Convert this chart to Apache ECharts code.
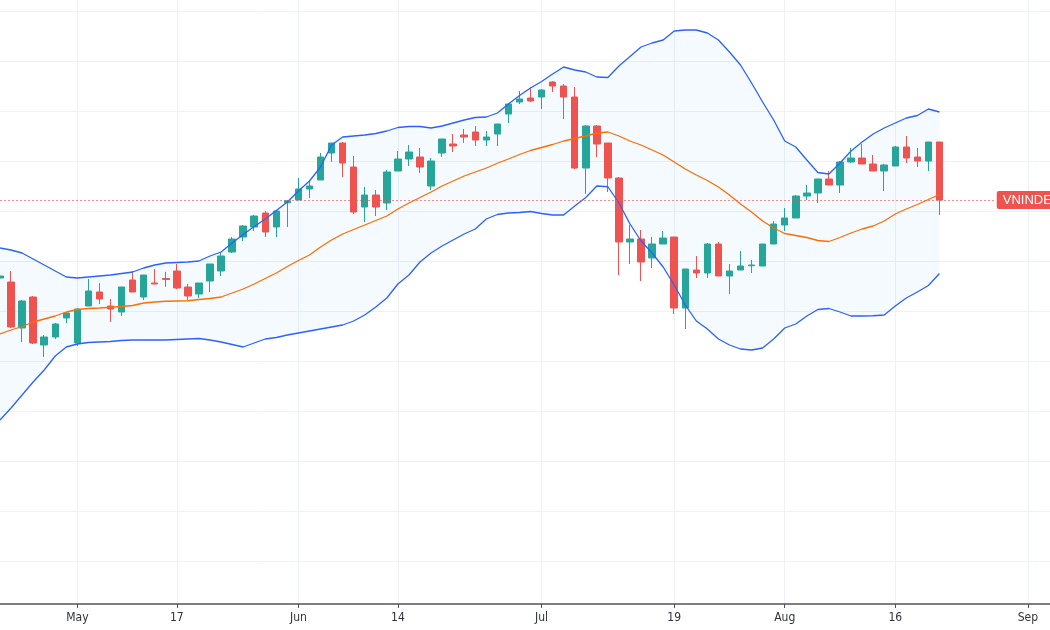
<!DOCTYPE html>
<html lang="en">
<head>
  <meta charset="UTF-8">
  <title>VNINDEX - Bollinger Bands</title>
  <script src="https://cdn.jsdelivr.net/npm/echarts@6/dist/echarts.min.js"></script>
  <style>
    html, body { margin: 0; padding: 0; background: #fff; }
    #chart { width: 1050px; height: 630px; }
  </style>
</head>
<body>
  <div id="chart"></div>
  <script>
    // trading days (the last ones are empty slots up to the right edge)
    const dates = [
      '2021-04-20','2021-04-22','2021-04-23','2021-04-26','2021-04-27','2021-04-28','2021-04-29',
      '2021-05-04','2021-05-05','2021-05-06','2021-05-07','2021-05-10','2021-05-11','2021-05-12','2021-05-13','2021-05-14',
      '2021-05-17','2021-05-18','2021-05-19','2021-05-20','2021-05-21','2021-05-24','2021-05-25','2021-05-26','2021-05-27','2021-05-28','2021-05-31',
      '2021-06-01','2021-06-02','2021-06-03','2021-06-04','2021-06-07','2021-06-08','2021-06-09','2021-06-10','2021-06-11',
      '2021-06-14','2021-06-15','2021-06-16','2021-06-17','2021-06-18','2021-06-21','2021-06-22','2021-06-23','2021-06-24','2021-06-25',
      '2021-06-28','2021-06-29','2021-06-30','2021-07-01','2021-07-02','2021-07-05','2021-07-06','2021-07-07','2021-07-08','2021-07-09',
      '2021-07-12','2021-07-13','2021-07-14','2021-07-15','2021-07-16','2021-07-19','2021-07-20','2021-07-21','2021-07-22','2021-07-23',
      '2021-07-26','2021-07-27','2021-07-28','2021-07-29','2021-07-30','2021-08-02','2021-08-03','2021-08-04','2021-08-05','2021-08-06',
      '2021-08-09','2021-08-10','2021-08-11','2021-08-12','2021-08-13','2021-08-16','2021-08-17','2021-08-18','2021-08-19','2021-08-20',
      '2021-08-23','2021-08-24','2021-08-25','2021-08-26','2021-08-27','2021-08-30','2021-08-31','2021-09-01','2021-09-06','2021-09-07'
    ];

    // which dates get a label on the time axis
    const tickLabels = {
      '2021-05-04': 'May', '2021-05-17': '17', '2021-06-01': 'Jun', '2021-06-14': '14',
      '2021-07-01': 'Jul', '2021-07-19': '19', '2021-08-02': 'Aug', '2021-08-16': '16', '2021-09-01': 'Sep'
    };

    const opens = [
      1266.4,1263.2,1226.4,1251.2,1212.8,1219.2,1234.4,1214.4,1244.0,1255.2,1244.0,1239.2,1264.8,1251.2,1262.4,1266.0,
      1272.0,1259.2,1253.6,1264.0,1272.0,1287.2,1299.2,1307.2,1318.4,1307.2,1326.6,1328.8,1337.6,1344.8,1366.4,1374.4,
      1355.2,1323.2,1332.8,1326.4,1352.0,1361.6,1363.2,1340.0,1366.4,1373.6,1380.8,1383.2,1376.8,1381.6,1397.6,1407.2,
      1410.4,1411.2,1423.2,1420.0,1411.2,1354.4,1388.0,1374.4,1346.4,1295.2,1297.6,1282.4,1293.6,1299.2,1242.4,1272.8,
      1270.4,1293.6,1268.0,1272.8,1276.2,1276.0,1293.6,1308.8,1314.4,1332.0,1334.4,1345.6,1340.8,1359.2,1362.4,1357.6,
      1352.0,1356.0,1371.2,1363.2,1360.0,1375.2
    ];
    const closes = [
      1268.0,1227.2,1248.0,1214.4,1219.2,1229.6,1238.4,1241.6,1256.0,1249.6,1241.6,1259.2,1255.2,1268.8,1261.6,1265.2,
      1258.4,1252.0,1262.4,1277.6,1284.0,1297.6,1308.0,1316.0,1303.2,1320.0,1328.2,1337.6,1340.0,1363.2,1374.4,1358.4,
      1319.2,1332.8,1323.2,1351.2,1361.6,1367.2,1355.2,1360.0,1377.6,1372.0,1379.2,1376.8,1379.2,1389.6,1405.6,1409.6,
      1408.0,1416.8,1420.0,1411.2,1354.4,1388.0,1373.6,1346.4,1295.2,1297.6,1279.2,1293.6,1298.4,1242.4,1273.6,1270.4,
      1293.6,1268.0,1272.0,1276.0,1276.8,1293.6,1309.6,1314.4,1332.0,1334.4,1345.6,1340.8,1359.2,1362.4,1357.6,1352.0,
      1356.8,1371.2,1362.4,1360.0,1375.2,1328.8
    ];
    const lows = [
      1265.6,1226.4,1215.2,1213.6,1203.2,1217.6,1230.4,1212.0,1244.0,1245.6,1231.2,1236.0,1255.2,1248.8,1261.6,1259.4,
      1257.6,1248.8,1250.4,1255.2,1268.0,1286.4,1296.0,1304.0,1299.2,1299.2,1307.2,1328.8,1330.4,1344.8,1359.2,1347.2,
      1317.6,1311.2,1316.0,1320.8,1352.0,1356.0,1350.4,1336.8,1363.2,1367.2,1374.4,1372.0,1372.0,1372.0,1390.4,1405.6,
      1407.2,1401.6,1415.2,1393.6,1353.6,1333.6,1363.2,1335.2,1268.8,1277.6,1264.0,1274.4,1293.6,1237.6,1225.6,1266.4,
      1266.4,1268.0,1253.6,1272.8,1270.4,1276.0,1293.6,1304.0,1314.4,1328.8,1326.4,1340.8,1334.4,1358.4,1357.6,1352.0,
      1336.0,1356.0,1358.4,1355.2,1352.0,1316.8
    ];
    const highs = [
      1268.8,1272.0,1248.8,1252.0,1220.8,1230.4,1239.2,1242.2,1265.6,1262.4,1249.6,1259.2,1272.0,1268.8,1273.6,1271.4,
      1277.6,1261.6,1262.4,1277.6,1287.2,1299.2,1308.8,1316.8,1320.0,1320.8,1328.8,1346.4,1344.8,1366.4,1374.4,1375.2,
      1364.0,1339.2,1336.8,1352.8,1368.0,1372.8,1370.4,1362.4,1377.6,1381.6,1385.6,1388.0,1384.0,1389.6,1406.4,1416.0,
      1419.2,1417.6,1424.0,1421.6,1419.2,1388.8,1388.8,1374.4,1347.2,1308.8,1304.8,1299.2,1304.0,1299.2,1273.6,1284.0,
      1294.4,1295.2,1277.6,1288.0,1280.8,1293.6,1312.0,1322.4,1332.8,1340.8,1345.6,1352.0,1360.0,1370.4,1373.6,1364.8,
      1357.6,1372.0,1380.0,1370.4,1375.2,1375.2
    ];

    // Bollinger bands as drawn
    const upperBand = [
      1290.4,1288.8,1286.4,1281.6,1276.8,1272.0,1267.2,1266.4,1267.2,1268.0,1268.8,1270.0,1271.2,1274.4,1276.8,1278.4,
      1278.8,1279.2,1280.0,1284.0,1287.2,1294.4,1301.2,1307.6,1313.6,1320.4,1327.2,1336.0,1344.0,1355.2,1372.8,1379.2,
      1380.0,1380.8,1382.0,1384.0,1386.8,1387.6,1387.6,1386.4,1388.0,1390.4,1392.8,1394.8,1395.2,1398.4,1405.6,1412.4,
      1418.4,1423.6,1429.6,1435.2,1432.8,1431.2,1427.2,1426.8,1436.0,1443.6,1451.2,1454.4,1456.8,1464.0,1464.8,1464.8,
      1462.4,1456.8,1447.2,1436.8,1422.4,1407.2,1392.8,1376.0,1371.2,1360.8,1350.8,1349.6,1358.4,1368.0,1375.2,1381.6,
      1386.4,1390.4,1394.4,1396.4,1401.6,1399.2
    ];
    const middleBand = [
      1221.6,1224.8,1227.6,1231.2,1233.6,1236.0,1239.2,1241.2,1242.0,1242.4,1243.0,1243.6,1244.4,1246.4,1247.2,1247.8,
      1248.0,1248.2,1249.2,1250.0,1251.2,1254.4,1257.6,1261.6,1266.0,1270.4,1275.6,1280.4,1284.8,1291.2,1296.8,1301.6,
      1305.2,1308.8,1312.4,1316.0,1321.6,1326.4,1330.8,1335.2,1340.0,1344.0,1348.0,1351.2,1354.4,1358.2,1361.6,1365.2,
      1368.4,1370.8,1373.2,1376.0,1378.0,1380.0,1382.4,1383.2,1380.0,1376.0,1372.8,1368.8,1364.8,1359.2,1353.6,1348.8,
      1344.4,1339.2,1332.8,1325.6,1319.2,1312.0,1306.4,1302.0,1300.4,1298.8,1296.4,1295.6,1298.8,1302.4,1305.6,1308.0,
      1312.0,1317.6,1321.6,1325.2,1329.2,1333.2
    ];
    const lowerBand = [
      1152.8,1162.4,1172.8,1183.2,1192.8,1204.0,1211.2,1213.6,1214.8,1215.2,1215.6,1216.4,1216.8,1216.8,1216.8,1216.8,
      1217.2,1217.6,1218.0,1216.8,1215.2,1213.2,1211.2,1214.4,1217.6,1218.8,1220.8,1222.4,1224.0,1225.6,1227.2,1228.8,
      1232.0,1236.8,1243.2,1250.4,1261.6,1268.8,1279.2,1286.4,1292.0,1296.8,1301.6,1305.6,1313.6,1317.2,1318.4,1318.8,
      1319.6,1318.0,1316.8,1316.8,1324.0,1330.8,1340.0,1339.4,1326.4,1309.6,1296.0,1286.4,1275.2,1260.8,1244.8,1232.0,
      1225.6,1217.6,1212.8,1209.6,1208.8,1210.4,1217.6,1226.4,1229.6,1236.0,1241.2,1242.0,1239.2,1236.0,1236.0,1236.2,
      1236.8,1244.0,1250.4,1255.2,1260.4,1270.0
    ];

    const UP = '#26a69a';
    const DOWN = '#ef5350';
    const BAND = '#2962ff';
    const BASIS = '#ff6d00';

    const candles = opens.map((o, i) => [o, closes[i], lows[i], highs[i]]);
    const bandWidth = upperBand.map((u, i) => +(u - lowerBand[i]).toFixed(2));
    const lastClose = closes[closes.length - 1];
    const isTick = (idx, value) => tickLabels[value] !== undefined;

    const chart = echarts.init(document.getElementById('chart'));
    chart.setOption({
      animation: false,
      backgroundColor: '#ffffff',
      grid: { left: -1.1, right: -5.3, top: 0, bottom: 26 },
      xAxis: {
        type: 'category',
        data: dates,
        boundaryGap: false,
        axisLine: { lineStyle: { color: '#50535e', width: 1.6 } },
        axisTick: { show: true, interval: isTick, length: 4, lineStyle: { color: '#50535e' } },
        axisLabel: {
          interval: isTick,
          formatter: v => tickLabels[v] || '',
          color: '#2f323c',
          fontSize: 12,
          margin: 8,
          fontFamily: '"Liberation Sans Narrow", "DejaVu Sans Condensed", "Liberation Sans", sans-serif'
        },
        splitLine: { show: true, interval: isTick, lineStyle: { color: '#eef1f6', width: 1 } }
      },
      yAxis: {
        type: 'value',
        min: 1005.6,
        max: 1488.8,
        minInterval: 40,
        maxInterval: 40,
        axisLine: { show: false },
        axisTick: { show: false },
        axisLabel: { show: false },
        splitLine: { show: true, showMinLine: false, showMaxLine: false, lineStyle: { color: '#eef1f6', width: 1 } }
      },
      series: [
        {
          name: 'bandBase',
          type: 'line',
          data: lowerBand,
          stack: 'band',
          symbol: 'none',
          silent: true,
          lineStyle: { opacity: 0 },
          z: 1
        },
        {
          name: 'bandFill',
          type: 'line',
          data: bandWidth,
          stack: 'band',
          symbol: 'none',
          silent: true,
          lineStyle: { opacity: 0 },
          areaStyle: { color: 'rgba(33,150,243,0.05)', opacity: 1 },
          z: 1
        },
        {
          name: 'VNINDEX',
          type: 'candlestick',
          data: candles,
          barWidth: 7,
          itemStyle: { color: UP, color0: DOWN, borderColor: UP, borderColor0: DOWN, borderWidth: 1 },
          z: 2,
          markLine: {
            silent: true,
            symbol: ['none', 'none'],
            animation: false,
            lineStyle: { color: 'rgba(239,83,80,0.65)', type: [2, 2], width: 1 },
            label: {
              show: true,
              position: 'end',
              distance: 2,
              formatter: 'VNINDEX',
              color: '#ffffff',
              backgroundColor: DOWN,
              padding: [3, 6, 2, 6],
              borderRadius: 2,
              fontSize: 13,
              fontFamily: '"Liberation Sans", Arial, sans-serif'
            },
            data: [[{ coord: [dates[0], lastClose] }, { coord: [dates[90], lastClose] }]]
          }
        },
        {
          name: 'Upper',
          type: 'line',
          data: upperBand,
          symbol: 'none',
          lineStyle: { color: BAND, width: 1.3 },
          z: 3
        },
        {
          name: 'Basis',
          type: 'line',
          data: middleBand,
          symbol: 'none',
          lineStyle: { color: BASIS, width: 1.3 },
          z: 3
        },
        {
          name: 'Lower',
          type: 'line',
          data: lowerBand,
          symbol: 'none',
          lineStyle: { color: BAND, width: 1.3 },
          z: 3
        }
      ]
    });
  </script>
</body>
</html>
